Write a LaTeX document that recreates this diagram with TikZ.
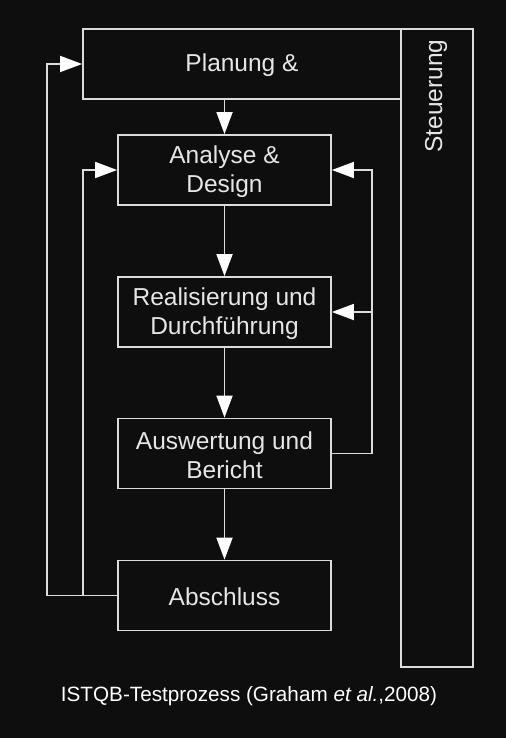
\documentclass[tikz,border=0pt]{standalone}
\usepackage{fontspec}
\setmainfont{Liberation Sans}
\usetikzlibrary{arrows.meta}
\definecolor{bg}{HTML}{0E0E0E}
\definecolor{ln}{HTML}{DCDCDC}
\definecolor{tx}{HTML}{E6E6E6}
\begin{document}
\begin{tikzpicture}[x=1pt,y=-1pt,
  box/.style={draw=ln,line width=1.8pt,minimum width=213pt,minimum height=70pt,
    align=center,text=tx,font=\fontsize{24.5}{29.5}\selectfont,inner sep=0pt},
  boxtext/.style={text=tx,font=\fontsize{24.5}{29.5}\selectfont,align=center,inner sep=0pt},
  arr/.style={draw=ln,line width=1.8pt,-{Triangle[length=22pt,width=16pt,fill=white,color=white]}},
  ln/.style={draw=ln,line width=1.8pt}]
\useasboundingbox[fill=bg] (0,0) rectangle (506,738);
\node[box,minimum width=72pt,minimum height=638pt] (steuer) at (437,348) {};
\node[boxtext,rotate=90] (steuertxt) at (436,96) {Steuerung};
\node[box,minimum width=318pt] (plan) at (242,64) {};
\node[boxtext] (plantxt) at (242,65) {Planung \&};
\node[box] (analyse) at (224.5,170) {};
\node[boxtext] (analysetxt) at (224.5,171.5) {Analyse \&\\Design};
\node[box] (real) at (224.5,312) {};
\node[boxtext] (realtxt) at (224.5,313.5) {Realisierung und\\Durchführung};
\node[box] (ausw) at (224.5,453.5) {};
\node[boxtext] (auswtxt) at (224.5,455) {Auswertung und\\Bericht};
\node[box] (absch) at (224.5,595.5) {};
\node[boxtext] (abschtxt) at (224.5,596.5) {Abschluss};
\coordinate (L1) at (47,0);
\coordinate (L2) at (83,0);
\coordinate (R) at (372,0);
\draw[arr] (analyse.north |- plan.south) -- (analyse.north);
\draw[arr] (analyse.south) -- (real.north);
\draw[arr] (real.south) -- (ausw.north);
\draw[arr] (ausw.south) -- (absch.north);
\draw[arr] (absch.west) -- (absch.west -| L1) |- (plan.west);
\draw[arr] (absch.west -| L2) |- (analyse.west);
\draw[arr] (ausw.east) -- (ausw.east -| R) |- (analyse.east);
\draw[arr] (real.east -| R) -- (real.east);
\node[text=white,font=\fontsize{20.7}{24}\selectfont] (cap) at (249,696) {ISTQB-Testprozess (Graham \textit{et al.},2008)};
\end{tikzpicture}
\end{document}
